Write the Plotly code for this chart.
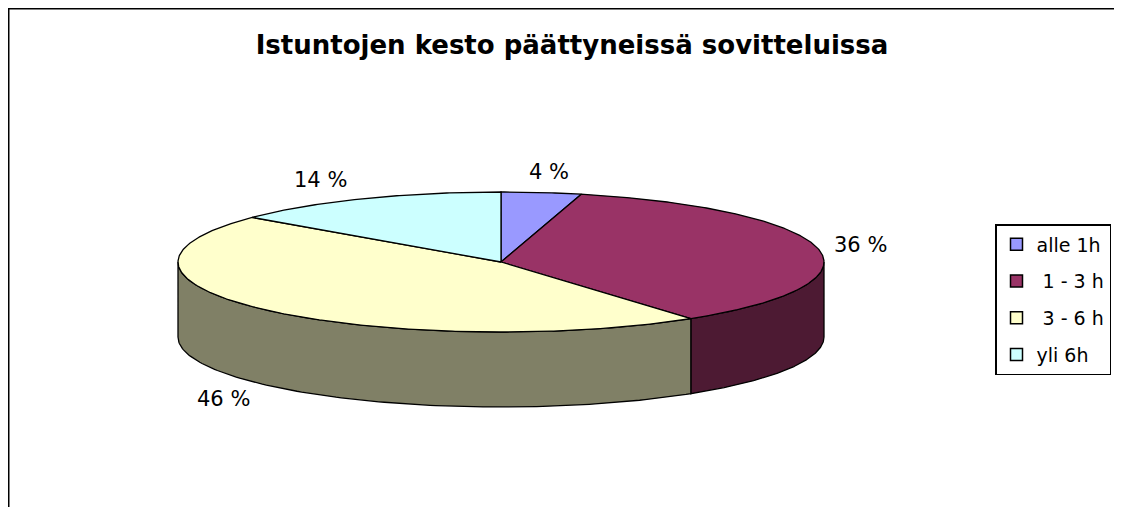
import numpy as np
import plotly.graph_objects as go

# ---- data ----
categories = ["alle 1h", "\u00a01 - 3 h", "\u00a03 - 6 h", "yli 6h"]
values = [4, 36, 46, 14]
label_texts = ["4 %", "36 %", "46 %", "14 %"]
top_colors = ["#9999FF", "#993366", "#FFFFCC", "#CCFFFF"]
side_colors = ["#4D4D80", "#4D1A33", "#808066", "#668080"]
title = "Istuntojen kesto päättyneissä sovitteluissa"

FONT = "DejaVu Sans, Verdana, sans-serif"

# ---- geometry (page pixel space; page body has an 8px margin) ----
W, H = 1122, 515
OFF = 8
FW, FH = W - 2 * OFF, H - 2 * OFF
cx, cy = 501, 262
rx, ry = 323, 70
depth = 75

def pt(theta_deg, dy=0.0):
    t = np.radians(theta_deg)
    return cx + rx * np.sin(t), cy - ry * np.cos(t) + dy

total = sum(values)
bounds = np.cumsum([0] + values) / total * 360.0

fig = go.Figure()

# side faces (visible front half: 90..270 deg)
for i in range(len(values)):
    a0, a1 = bounds[i], bounds[i + 1]
    s0, s1 = max(a0, 90), min(a1, 270)
    if s1 <= s0:
        continue
    th = np.linspace(s0, s1, 120)
    xt, yt = pt(th)
    xb, yb = pt(th[::-1], depth)
    xs = np.concatenate([xt, xb, xt[:1]])
    ys = np.concatenate([yt, yb, yt[:1]])
    fig.add_trace(go.Scatter(x=xs, y=ys, mode="lines", fill="toself",
                             fillcolor=side_colors[i],
                             line=dict(color="black", width=1.3),
                             showlegend=False, hoverinfo="skip"))

# top faces
for i in range(len(values)):
    a0, a1 = bounds[i], bounds[i + 1]
    th = np.linspace(a0, a1, max(20, int((a1 - a0) * 2)))
    xa, ya = pt(th)
    xs = np.concatenate([[cx], xa, [cx]])
    ys = np.concatenate([[cy], ya, [cy]])
    fig.add_trace(go.Scatter(x=xs, y=ys, mode="lines", fill="toself",
                             fillcolor=top_colors[i],
                             line=dict(color="black", width=1.3),
                             showlegend=False, hoverinfo="skip"))

# legend entries (square markers)
for i in range(len(values)):
    fig.add_trace(go.Scatter(x=[None], y=[None], mode="markers",
                             marker=dict(symbol="square", size=12,
                                         color=top_colors[i],
                                         line=dict(color="black", width=1.5)),
                             name=categories[i], legendgroup=str(i),
                             showlegend=True))

# percentage labels
for i in range(len(values)):
    mid = (bounds[i] + bounds[i + 1]) / 2
    t = np.radians(mid)
    px_, py_ = pt(mid)
    s, c = np.sin(t), np.cos(t)
    if s > 0.3:
        anchor, lx = "left", px_ + 14
    elif s < -0.3:
        anchor, lx = "right", px_ - 14
    else:
        anchor, lx = "center", px_ + 8
    ly = py_ - 21 * c
    if c < 0:
        ly += depth
    fig.add_annotation(x=lx, y=ly, text=label_texts[i], showarrow=False,
                       xanchor=anchor, yanchor="middle",
                       font=dict(size=21, color="black", family=FONT))

# chart area frame (top and left lines)
fig.add_shape(type="line", xref="paper", yref="paper", x0=0, y0=1, x1=1, y1=1,
              line=dict(color="black", width=3))
fig.add_shape(type="line", xref="paper", yref="paper", x0=0, y0=0, x1=0, y1=1,
              line=dict(color="black", width=3))

fig.update_layout(
    width=FW, height=FH,
    margin=dict(l=0, r=0, t=0, b=0),
    paper_bgcolor="white", plot_bgcolor="white",
    title=dict(text="<b>" + title + "</b>", x=(572 - OFF) / FW, xanchor="center",
               y=1 - (45 - OFF) / FH, yanchor="middle",
               font=dict(size=26, color="black", family=FONT)),
    xaxis=dict(range=[OFF, OFF + FW], visible=False, fixedrange=True),
    yaxis=dict(range=[OFF + FH, OFF], visible=False, fixedrange=True),
    legend=dict(x=(995 - OFF) / FW, y=1 - (224 - OFF) / FH,
                xanchor="left", yanchor="top",
                bordercolor="black", borderwidth=1.5, bgcolor="white",
                tracegroupgap=9,
                font=dict(size=19, color="black", family=FONT),
                itemwidth=30),
    showlegend=True,
)

fig.write_html("out.html")
